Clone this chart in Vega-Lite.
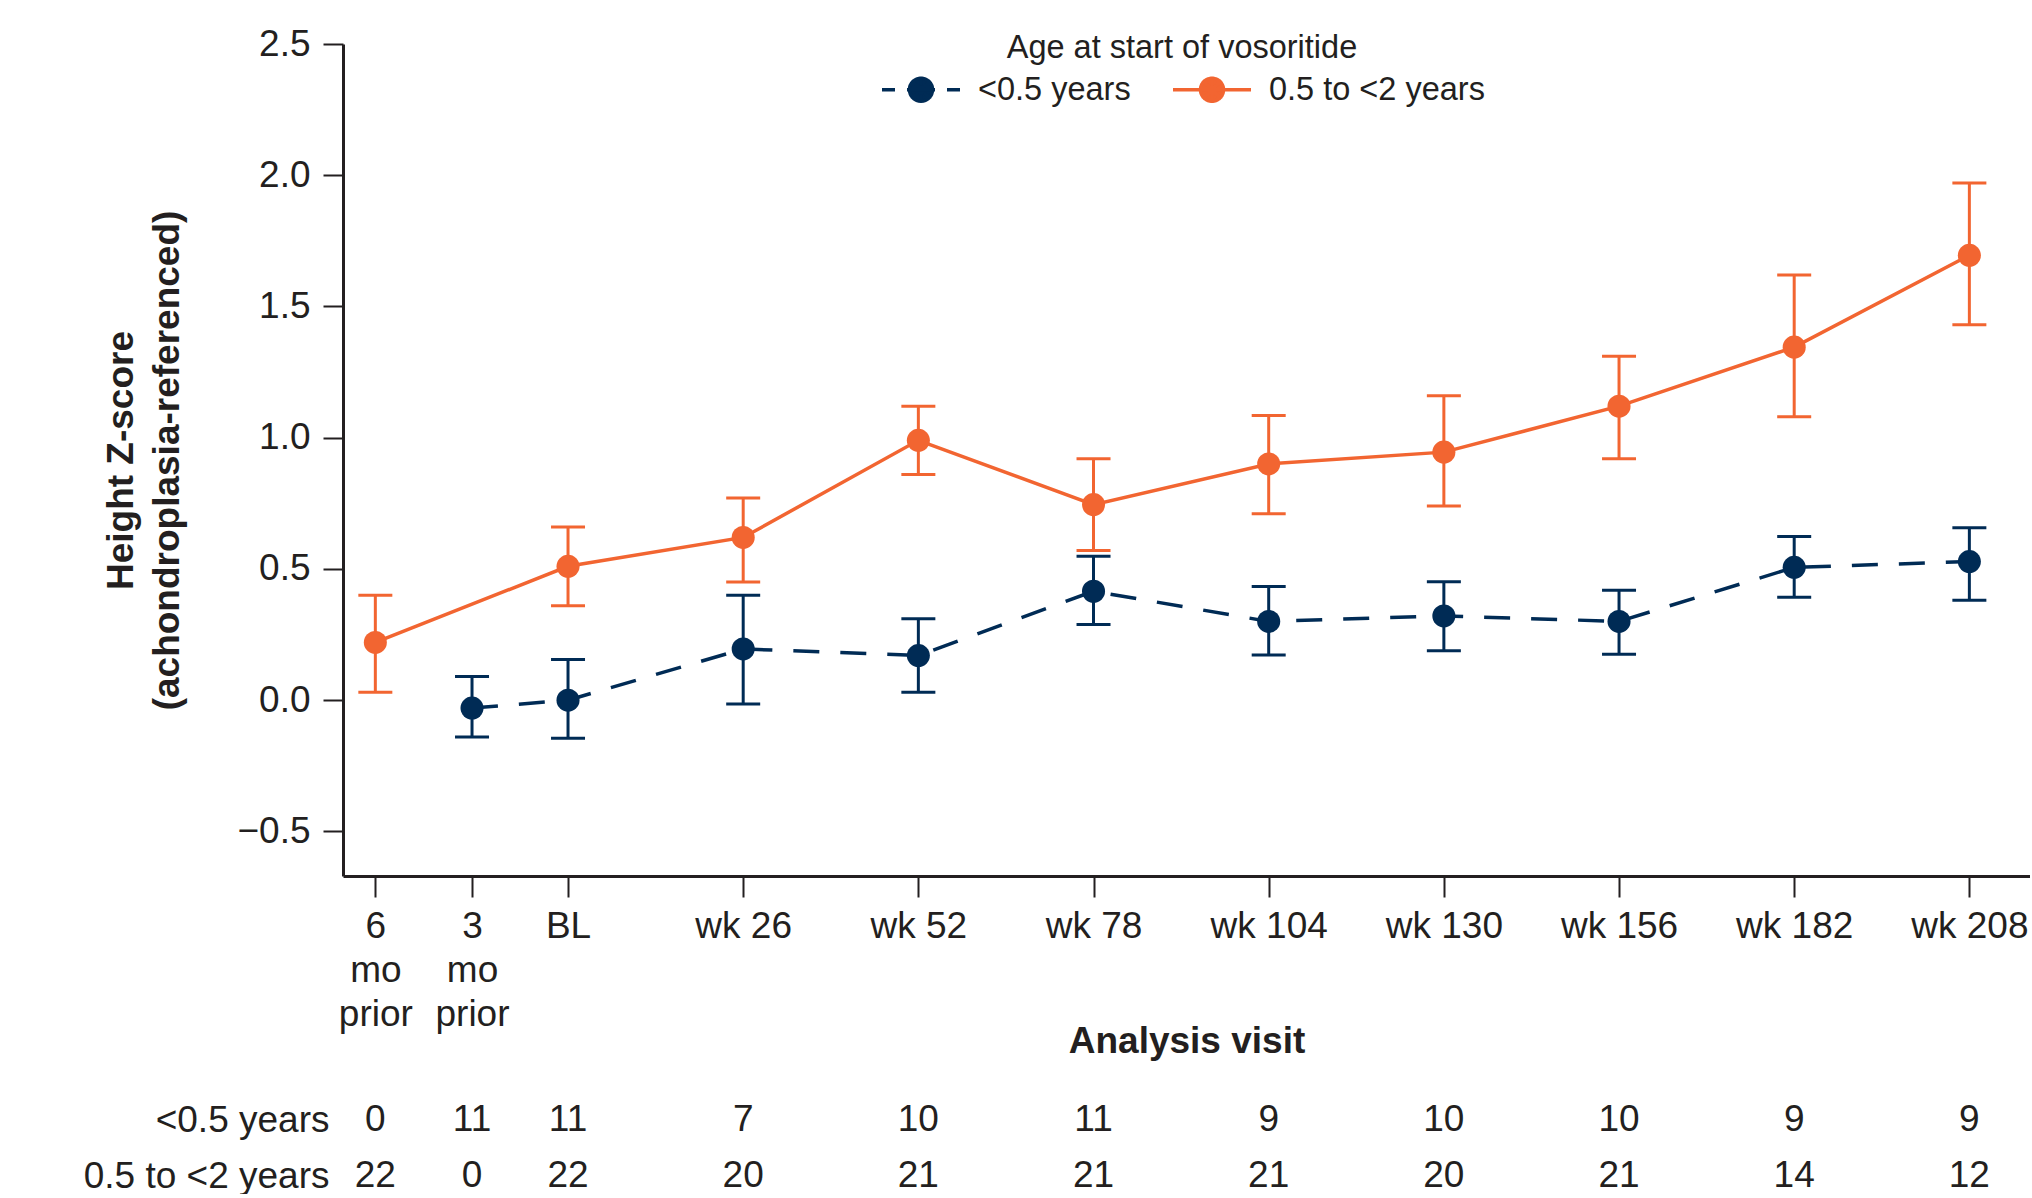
{
  "$schema": "https://vega.github.io/schema/vega-lite/v6.json",
  "background": "white",
  "padding": {"left": 83, "top": 25, "right": 0, "bottom": 0},
  "spacing": 42,
  "config": {
    "font": "Liberation Sans",
    "view": {"stroke": null},
    "axis": {"domainColor": "#231f20", "tickColor": "#231f20", "labelColor": "#231f20", "titleColor": "#231f20", "grid": false},
    "legend": {"labelColor": "#231f20", "titleColor": "#231f20"}
  },
  "datasets": {
    "z": [
      {"visit": "6 mo prior", "week": -28.6, "group": "0.5 to <2 years", "z": 0.22, "lo": 0.03, "hi": 0.40},
      {"visit": "BL", "week": 0, "group": "0.5 to <2 years", "z": 0.51, "lo": 0.36, "hi": 0.66},
      {"visit": "wk 26", "week": 26, "group": "0.5 to <2 years", "z": 0.62, "lo": 0.45, "hi": 0.77},
      {"visit": "wk 52", "week": 52, "group": "0.5 to <2 years", "z": 0.99, "lo": 0.86, "hi": 1.12},
      {"visit": "wk 78", "week": 78, "group": "0.5 to <2 years", "z": 0.745, "lo": 0.57, "hi": 0.92},
      {"visit": "wk 104", "week": 104, "group": "0.5 to <2 years", "z": 0.90, "lo": 0.71, "hi": 1.085},
      {"visit": "wk 130", "week": 130, "group": "0.5 to <2 years", "z": 0.945, "lo": 0.74, "hi": 1.16},
      {"visit": "wk 156", "week": 156, "group": "0.5 to <2 years", "z": 1.12, "lo": 0.92, "hi": 1.31},
      {"visit": "wk 182", "week": 182, "group": "0.5 to <2 years", "z": 1.345, "lo": 1.08, "hi": 1.62},
      {"visit": "wk 208", "week": 208, "group": "0.5 to <2 years", "z": 1.695, "lo": 1.43, "hi": 1.97},
      {"visit": "3 mo prior", "week": -14.25, "group": "<0.5 years", "z": -0.03, "lo": -0.14, "hi": 0.09},
      {"visit": "BL", "week": 0, "group": "<0.5 years", "z": 0.0, "lo": -0.145, "hi": 0.155},
      {"visit": "wk 26", "week": 26, "group": "<0.5 years", "z": 0.195, "lo": -0.015, "hi": 0.40},
      {"visit": "wk 52", "week": 52, "group": "<0.5 years", "z": 0.17, "lo": 0.03, "hi": 0.31},
      {"visit": "wk 78", "week": 78, "group": "<0.5 years", "z": 0.415, "lo": 0.288, "hi": 0.548},
      {"visit": "wk 104", "week": 104, "group": "<0.5 years", "z": 0.30, "lo": 0.172, "hi": 0.433},
      {"visit": "wk 130", "week": 130, "group": "<0.5 years", "z": 0.321, "lo": 0.188, "hi": 0.451},
      {"visit": "wk 156", "week": 156, "group": "<0.5 years", "z": 0.30, "lo": 0.175, "hi": 0.419},
      {"visit": "wk 182", "week": 182, "group": "<0.5 years", "z": 0.506, "lo": 0.392, "hi": 0.624},
      {"visit": "wk 208", "week": 208, "group": "<0.5 years", "z": 0.528, "lo": 0.381, "hi": 0.657}
    ],
    "n": [
      {"week": -28.6, "group": "<0.5 years", "n": 0},
      {"week": -14.25, "group": "<0.5 years", "n": 11},
      {"week": 0, "group": "<0.5 years", "n": 11},
      {"week": 26, "group": "<0.5 years", "n": 7},
      {"week": 52, "group": "<0.5 years", "n": 10},
      {"week": 78, "group": "<0.5 years", "n": 11},
      {"week": 104, "group": "<0.5 years", "n": 9},
      {"week": 130, "group": "<0.5 years", "n": 10},
      {"week": 156, "group": "<0.5 years", "n": 10},
      {"week": 182, "group": "<0.5 years", "n": 9},
      {"week": 208, "group": "<0.5 years", "n": 9},
      {"week": -28.6, "group": "0.5 to <2 years", "n": 22},
      {"week": -14.25, "group": "0.5 to <2 years", "n": 0},
      {"week": 0, "group": "0.5 to <2 years", "n": 22},
      {"week": 26, "group": "0.5 to <2 years", "n": 20},
      {"week": 52, "group": "0.5 to <2 years", "n": 21},
      {"week": 78, "group": "0.5 to <2 years", "n": 21},
      {"week": 104, "group": "0.5 to <2 years", "n": 21},
      {"week": 130, "group": "0.5 to <2 years", "n": 20},
      {"week": 156, "group": "0.5 to <2 years", "n": 21},
      {"week": 182, "group": "0.5 to <2 years", "n": 14},
      {"week": 208, "group": "0.5 to <2 years", "n": 12}
    ]
  },
  "vconcat": [
    {
      "width": 1687,
      "height": 832,
      "data": {"name": "z"},
      "encoding": {
        "x": {
          "field": "week", "type": "quantitative",
          "scale": {"domain": [-33.4, 217], "nice": false, "zero": false},
          "axis": {
            "values": [-28.6, -14.25, 0, 26, 52, 78, 104, 130, 156, 182, 208],
            "labelExpr": "datum.value < -20 ? ['6', 'mo', 'prior'] : datum.value < -1 ? ['3', 'mo', 'prior'] : datum.value == 0 ? 'BL' : 'wk ' + datum.value",
            "labelFontSize": 37, "labelLineHeight": 44, "labelPadding": 11,
            "labelOverlap": false, "labelFlush": false, "labelBound": false,
            "tickSize": 21, "tickWidth": 2, "domainWidth": 3,
            "title": "Analysis visit", "titleFontSize": 37, "titleFontWeight": "bold",
            "titleBaseline": "alphabetic", "titleY": 176, "titleX": 843.5
          }
        },
        "y": {
          "field": "z", "type": "quantitative",
          "scale": {"domain": [-0.67, 2.5], "nice": false, "zero": false},
          "axis": {
            "title": ["Height Z-score", "(achondroplasia-referenced)"],
            "titleFontSize": 37, "titleFontWeight": "bold", "titleLineHeight": 46,
            "titleBaseline": "bottom", "titleX": -203, "titleY": 416, "titleAlign": "center",
            "values": [-0.5, 0, 0.5, 1, 1.5, 2, 2.5], "format": ".1f",
            "labelFontSize": 37, "labelPadding": 13, "tickSize": 20, "tickWidth": 2, "domainWidth": 3
          }
        },
        "color": {
          "field": "group", "type": "nominal",
          "scale": {"domain": ["<0.5 years", "0.5 to <2 years"], "range": ["#002b55", "#f26531"]},
          "legend": {
            "orient": "none", "legendX": 537, "legendY": -12, "direction": "horizontal", "columns": 2,
            "title": "Age at start of vosoritide", "titleFontSize": 32.5, "titleFontWeight": "normal",
            "titleAnchor": "middle", "titlePadding": -16, "padding": 0, "titleLimit": 1000,
            "labelFontSize": 32.5, "labelOffset": 16, "columnPadding": 35, "labelLimit": 1000,
            "symbolType": "M-1,0L1,0M0.295,0A0.295,0.295,0,0,1,0.2086,0.2086L0,0ZM0.2086,0.2086A0.295,0.295,0,0,1,0,0.295L0,0ZM0,0.295A0.295,0.295,0,0,1,-0.2086,0.2086L0,0ZM-0.2086,0.2086A0.295,0.295,0,0,1,-0.295,0L0,0ZM-0.295,0A0.295,0.295,0,0,1,-0.2086,-0.2086L0,0ZM-0.2086,-0.2086A0.295,0.295,0,0,1,0,-0.295L0,0ZM0,-0.295A0.295,0.295,0,0,1,0.2086,-0.2086L0,0ZM0.2086,-0.2086A0.295,0.295,0,0,1,0.295,0L0,0Z",
            "symbolSize": 6084, "symbolStrokeWidth": 3.5
          }
        }
      },
      "layer": [
        {
          "mark": {"type": "rule", "strokeWidth": 3},
          "encoding": {"y": {"field": "lo", "type": "quantitative"}, "y2": {"field": "hi"}}
        },
        {
          "mark": {"type": "tick", "orient": "horizontal", "size": 34, "thickness": 3, "opacity": 1},
          "encoding": {"y": {"field": "lo", "type": "quantitative"}}
        },
        {
          "mark": {"type": "tick", "orient": "horizontal", "size": 34, "thickness": 3, "opacity": 1},
          "encoding": {"y": {"field": "hi", "type": "quantitative"}}
        },
        {
          "transform": [{"filter": "datum.group === '<0.5 years'"}],
          "mark": {"type": "line", "strokeWidth": 3.5, "strokeDash": [26, 21]}
        },
        {
          "transform": [{"filter": "datum.group === '0.5 to <2 years'"}],
          "mark": {"type": "line", "strokeWidth": 3.5}
        },
        {
          "mark": {"type": "point", "filled": true, "size": 531, "opacity": 1},
          "encoding": {
            "strokeDash": {
              "field": "group", "type": "nominal",
              "scale": {"domain": ["<0.5 years", "0.5 to <2 years"], "range": [[13, 12, 28, 12], [1, 0]]},
              "legend": {
                "orient": "none", "legendX": 537, "legendY": -12, "direction": "horizontal", "columns": 2,
                "title": "Age at start of vosoritide", "titleFontSize": 32.5, "titleFontWeight": "normal",
                "titleAnchor": "middle", "titlePadding": -16, "padding": 0, "titleLimit": 1000,
                "labelFontSize": 32.5, "labelOffset": 16, "columnPadding": 35, "labelLimit": 1000,
                "symbolType": "M-1,0L1,0M0.295,0A0.295,0.295,0,0,1,0.2086,0.2086L0,0ZM0.2086,0.2086A0.295,0.295,0,0,1,0,0.295L0,0ZM0,0.295A0.295,0.295,0,0,1,-0.2086,0.2086L0,0ZM-0.2086,0.2086A0.295,0.295,0,0,1,-0.295,0L0,0ZM-0.295,0A0.295,0.295,0,0,1,-0.2086,-0.2086L0,0ZM-0.2086,-0.2086A0.295,0.295,0,0,1,0,-0.295L0,0ZM0,-0.295A0.295,0.295,0,0,1,0.2086,-0.2086L0,0ZM0.2086,-0.2086A0.295,0.295,0,0,1,0.295,0L0,0Z",
                "symbolSize": 6084, "symbolStrokeWidth": 3.5
              }
            }
          }
        }
      ]
    },
    {
      "width": 1687,
      "height": 84,
      "data": {"name": "n"},
      "mark": {"type": "text", "fontSize": 37, "color": "#231f20", "baseline": "middle"},
      "encoding": {
        "x": {
          "field": "week", "type": "quantitative",
          "scale": {"domain": [-33.4, 217], "nice": false, "zero": false},
          "axis": null
        },
        "y": {
          "field": "group", "type": "nominal",
          "sort": ["<0.5 years", "0.5 to <2 years"],
          "scale": {"type": "point", "padding": 0.25},
          "axis": {"title": null, "domain": false, "ticks": false, "labelFontSize": 37, "labelPadding": 14, "labelLimit": 1000}
        },
        "text": {"field": "n", "type": "quantitative"}
      }
    }
  ],
  "resolve": {"scale": {"x": "independent"}}
}
